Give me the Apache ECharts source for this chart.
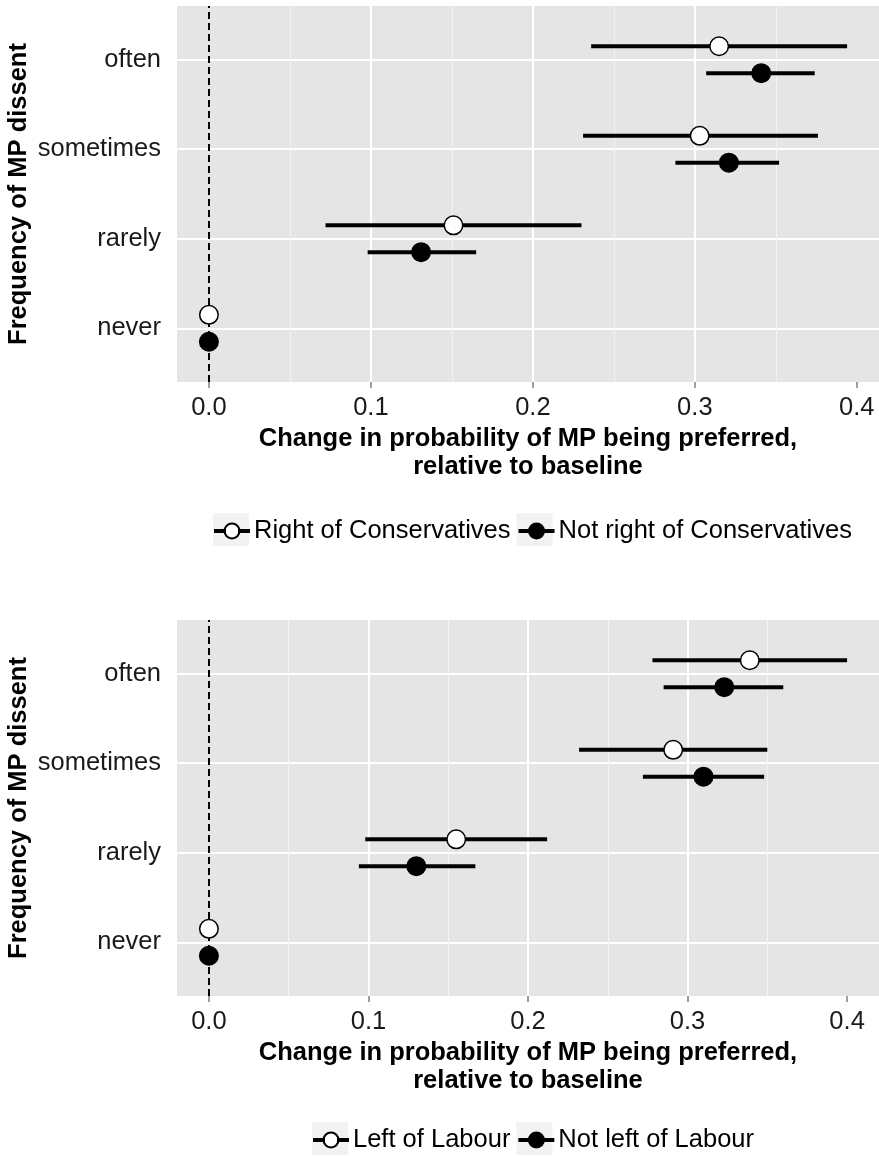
<!DOCTYPE html>
<html><head><meta charset="utf-8">
<script src="https://cdn.jsdelivr.net/npm/echarts@6/dist/echarts.min.js"></script>
<style>html,body{margin:0;padding:0;background:#fff}#c{width:879px;height:1157px}</style>
</head><body><div id="c"></div>
<script>
// ---------- data ----------
const categories = ['never', 'rarely', 'sometimes', 'often'];
const xTicks = [0, 0.1, 0.2, 0.3, 0.4];

const conLegend = ['Right of Conservatives', 'Not right of Conservatives'];
const conRightEst = [0, 0.151, 0.303, 0.315];
const conRightLo  = [0, 0.072, 0.231, 0.236];
const conRightHi  = [0, 0.230, 0.376, 0.394];
const conNotEst   = [0, 0.131, 0.321, 0.341];
const conNotLo    = [0, 0.098, 0.288, 0.307];
const conNotHi    = [0, 0.165, 0.352, 0.374];

const labLegend = ['Left of Labour', 'Not left of Labour'];
const labLeftEst = [0, 0.155, 0.291, 0.339];
const labLeftLo  = [0, 0.098, 0.232, 0.278];
const labLeftHi  = [0, 0.212, 0.350, 0.400];
const labNotEst  = [0, 0.130, 0.310, 0.323];
const labNotLo   = [0, 0.094, 0.272, 0.285];
const labNotHi   = [0, 0.167, 0.348, 0.360];

const xTitle = 'Change in probability of MP being preferred,\nrelative to baseline';
const yTitle = 'Frequency of MP dissent';

// ---------- styling ----------
const FONT = "'Liberation Sans', Arial, Helvetica, sans-serif";
const FS = 25.5;
const DODGE = 0.15;
const PANEL_BG = '#E5E5E5';
const KEY_BG = '#F2F2F2';
const ICON_W = 34, ICON_H = 15, LEG_GAP = 8;

function expandRange(arrs) {
  const all = [].concat(...arrs);
  const lo = Math.min(...all), hi = Math.max(...all);
  const pad = (hi - lo) * 0.05;
  return [lo - pad, hi + pad];
}

function renderErr(params, api) {
  const p1 = api.coord([api.value(0), api.value(2)]);
  const p2 = api.coord([api.value(1), api.value(2)]);
  return {
    type: 'line',
    shape: { x1: p1[0], y1: p1[1], x2: p2[0], y2: p2[1] },
    style: { stroke: '#000', lineWidth: 4, lineCap: 'butt' }
  };
}

const measureCtx = document.createElement('canvas').getContext('2d');
function textWidth(s) {
  measureCtx.font = FS + 'px ' + FONT;
  return measureCtx.measureText(s).width;
}

const iconPath = 'path://M0 9.1H10V10.9H0Z M24 9.1H34V10.9H24Z M24.5 10A7.5 7.5 0 1 1 9.5 10A7.5 7.5 0 1 1 24.5 10Z';

function panel(idx, top, legendLeft, legendTop, names, aEst, aLo, aHi, bEst, bLo, bHi) {
  const range = expandRange([aLo, aHi, bLo, bHi, aEst, bEst]);
  const minor = [];
  for (let i = 0; i < xTicks.length - 1; i++) minor.push({ xAxis: (xTicks[i] + xTicks[i + 1]) / 2 });

  const errData = [];
  categories.forEach((c, i) => {
    errData.push([aLo[i], aHi[i], i + 1 + DODGE]);
    errData.push([bLo[i], bHi[i], i + 1 - DODGE]);
  });

  const grid = {
    left: 177, top: top, width: 702, height: 376,
    show: true, backgroundColor: PANEL_BG, borderWidth: 0,
    outerBoundsMode: 'none'
  };
  const xAxis = {
    type: 'value', gridIndex: idx, min: range[0], max: range[1],
    axisLine: { show: false },
    axisTick: { show: true, length: 6, customValues: xTicks, lineStyle: { color: '#7F7F7F', width: 1.5 } },
    axisLabel: {
      customValues: xTicks,
      margin: 13, fontFamily: FONT, fontSize: FS, color: '#1A1A1A',
      formatter: v => v.toFixed(1)
    },
    splitLine: { show: true, showMinLine: false, showMaxLine: false, lineStyle: { color: '#FFFFFF', width: 2 } },
    name: xTitle, nameLocation: 'middle', nameGap: 43, nameMoveOverlap: false,
    nameTextStyle: { fontFamily: FONT, fontSize: FS, fontWeight: 'bold', color: '#000', lineHeight: 28 }
  };
  const yAxis = {
    type: 'value', gridIndex: idx, min: 0.4, max: 4.6,
    axisLine: { show: false }, axisTick: { show: false },
    axisLabel: {
      margin: 16, fontFamily: FONT, fontSize: FS, color: '#1A1A1A',
      showMinLabel: false, showMaxLabel: false,
      formatter: v => (Math.abs(v - Math.round(v)) < 1e-6 && categories[Math.round(v) - 1]) ? categories[Math.round(v) - 1] : ''
    },
    splitLine: { show: true, showMinLine: false, showMaxLine: false, lineStyle: { color: '#FFFFFF', width: 2 } },
    name: yTitle, nameLocation: 'middle', nameGap: 145, nameMoveOverlap: false,
    nameTextStyle: { fontFamily: FONT, fontSize: FS, fontWeight: 'bold', color: '#000' }
  };
  const series = [
    {
      type: 'custom', name: 'ci' + idx, xAxisIndex: idx, yAxisIndex: idx,
      renderItem: renderErr, data: errData, encode: { x: [0, 1], y: 2 }, z: 2, silent: true,
      markLine: {
        z: 1, silent: true, symbol: 'none', label: { show: false },
        lineStyle: { color: '#F2F2F2', width: 1, type: 'solid' },
        data: minor
      }
    },
    {
      type: 'custom', name: 'zero' + idx, xAxisIndex: idx, yAxisIndex: idx,
      renderItem: () => null, data: [[0, 0, 1]], encode: { x: 0, y: 2 }, silent: true,
      markLine: {
        z: 3, silent: true, symbol: 'none', label: { show: false },
        lineStyle: { color: '#000', width: 2, type: [7, 4] },
        data: [{ xAxis: 0 }]
      }
    },
    {
      type: 'scatter', name: names[0], xAxisIndex: idx, yAxisIndex: idx, z: 5,
      symbol: 'circle', symbolSize: 18.5,
      itemStyle: { color: '#FFFFFF', borderColor: '#000', borderWidth: 1.5, opacity: 1 },
      emphasis: { disabled: true },
      data: categories.map((c, i) => [aEst[i], i + 1 + DODGE])
    },
    {
      type: 'scatter', name: names[1], xAxisIndex: idx, yAxisIndex: idx, z: 5,
      symbol: 'circle', symbolSize: 18.5,
      itemStyle: { color: '#000', borderColor: '#000', borderWidth: 1.5, opacity: 1 },
      emphasis: { disabled: true },
      data: categories.map((c, i) => [bEst[i], i + 1 - DODGE])
    }
  ];
  const legend = {
    data: names, left: legendLeft, top: legendTop, orient: 'horizontal', padding: 0,
    icon: iconPath, itemWidth: ICON_W, itemHeight: ICON_H, itemGap: LEG_GAP,
    selectedMode: false, z: 4,
    textStyle: { fontFamily: FONT, fontSize: FS, color: '#000' }
  };
  // grey key backgrounds behind the legend icons (layout only)
  const centerY = legendTop + 11;
  const k1 = legendLeft;
  const k2 = legendLeft + ICON_W + 5 + textWidth(names[0]) + LEG_GAP;
  const keys = [k1, k2].map(kx => ({
    type: 'rect', z: 1, silent: true,
    shape: { x: kx - 1, y: centerY - 16, width: ICON_W + 2, height: 33 },
    style: { fill: KEY_BG }
  }));
  return { grid, xAxis, yAxis, series, legend, keys };
}

const p1 = panel(0, 6, 214, 518, conLegend, conRightEst, conRightLo, conRightHi, conNotEst, conNotLo, conNotHi);
const p2 = panel(1, 620, 313, 1127, labLegend, labLeftEst, labLeftLo, labLeftHi, labNotEst, labNotLo, labNotHi);

const chart = echarts.init(document.getElementById('c'), null, { renderer: 'canvas' });
chart.setOption({
  animation: false,
  backgroundColor: '#FFFFFF',
  textStyle: { fontFamily: FONT },
  grid: [p1.grid, p2.grid],
  xAxis: [p1.xAxis, p2.xAxis],
  yAxis: [p1.yAxis, p2.yAxis],
  legend: [p1.legend, p2.legend],
  graphic: [...p1.keys, ...p2.keys],
  series: [...p1.series, ...p2.series]
});
</script></body></html>
